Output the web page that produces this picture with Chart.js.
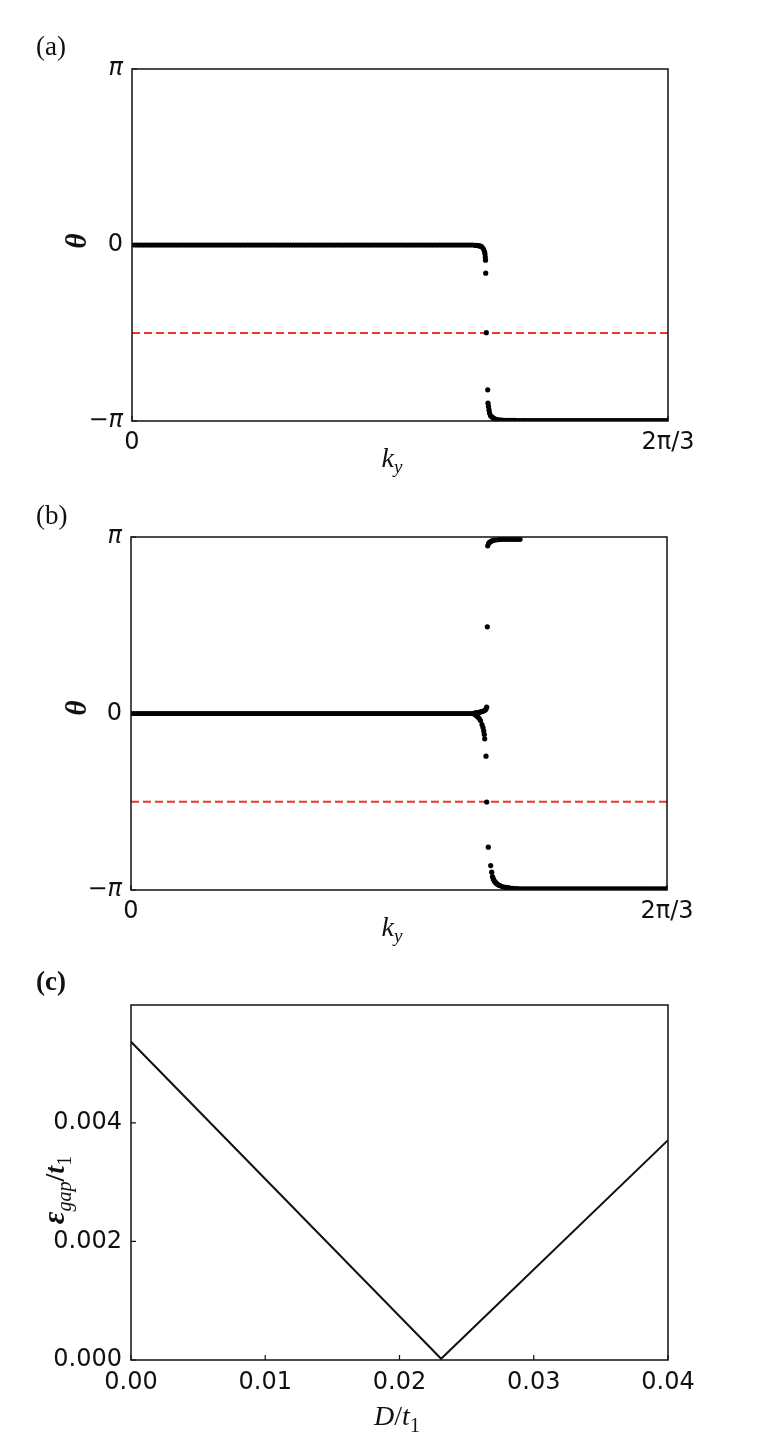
<!DOCTYPE html>
<html>
<head>
<meta charset="utf-8">
<script src="https://cdn.jsdelivr.net/npm/chart.js@4.4.1/dist/chart.umd.min.js"></script>
<style>
  html, body { margin: 0; padding: 0; background: #fff; }
  main { position: relative; width: 780px; height: 1450px; }
  canvas { position: absolute; left: 0; }
</style>
</head>
<body>
<main></main>
<script>
// Berry phase theta(k_y) for two cases + gap vs D/t1

const PI = Math.PI;

// axis ticks
const kyTicks = [0, 2 * PI / 3];
const kyTickLabels = ['0', '2π/3'];
const thetaTicks = [-PI, 0, PI];
const thetaTickLabels = ['−π', '0', 'π'];
const halfPiLine = -PI / 2;

// flat stretches shared by (a) and (b)
const kyUpperFlat = [
  0.00, 0.01, 0.02, 0.03, 0.04, 0.05, 0.06, 0.07, 0.08, 0.09,
  0.10, 0.11, 0.12, 0.13, 0.14, 0.15, 0.16, 0.17, 0.18, 0.19,
  0.20, 0.21, 0.22, 0.23, 0.24, 0.25, 0.26, 0.27, 0.28, 0.29,
  0.30, 0.31, 0.32, 0.33, 0.34, 0.35, 0.36, 0.37, 0.38, 0.39,
  0.40, 0.41, 0.42, 0.43, 0.44, 0.45, 0.46, 0.47, 0.48, 0.49,
  0.50, 0.51, 0.52, 0.53, 0.54, 0.55, 0.56, 0.57, 0.58, 0.59,
  0.60, 0.61, 0.62, 0.63, 0.64, 0.65, 0.66, 0.67, 0.68, 0.69,
  0.70, 0.71, 0.72, 0.73, 0.74, 0.75, 0.76, 0.77, 0.78, 0.79,
  0.80, 0.81, 0.82, 0.83, 0.84, 0.85, 0.86, 0.87, 0.88, 0.89,
  0.90, 0.91, 0.92, 0.93, 0.94, 0.95, 0.96, 0.97, 0.98, 0.99,
  1.00, 1.01, 1.02, 1.03, 1.04, 1.05, 1.06, 1.07, 1.08, 1.09,
  1.10, 1.11, 1.12, 1.13, 1.14, 1.15, 1.16, 1.17, 1.18, 1.19,
  1.20, 1.21, 1.22, 1.23, 1.24, 1.25, 1.26, 1.27, 1.28, 1.29,
  1.30, 1.31, 1.32, 1.33
];
const thetaUpperFlat = 0;
const kyLowerFlat = [
  1.54, 1.55, 1.56, 1.57, 1.58, 1.59, 1.60, 1.61, 1.62, 1.63,
  1.64, 1.65, 1.66, 1.67, 1.68, 1.69, 1.70, 1.71, 1.72, 1.73,
  1.74, 1.75, 1.76, 1.77, 1.78, 1.79, 1.80, 1.81, 1.82, 1.83,
  1.84, 1.85, 1.86, 1.87, 1.88, 1.89, 1.90, 1.91, 1.92, 1.93,
  1.94, 1.95, 1.96, 1.97, 1.98, 1.99, 2.00, 2.01, 2.02, 2.03,
  2.04, 2.05, 2.06, 2.07, 2.08, 2.09, 2.094
];
const thetaLowerA = -3.133;
const thetaLowerB = -3.12;

// (a) jump region
const kyEdgeA = [1.34, 1.346, 1.352, 1.356, 1.36, 1.364, 1.3676, 1.3735, 1.3774, 1.3793,
  1.3805, 1.3813, 1.3821, 1.3844, 1.3899, 1.391, 1.393, 1.395, 1.397, 1.4009,
  1.4038, 1.4067, 1.4105, 1.4145, 1.42, 1.4262, 1.436, 1.4457, 1.455, 1.465,
  1.475, 1.485, 1.495, 1.505, 1.515, 1.525, 1.535];
const thetaEdgeA = [-0.005, -0.007, -0.01, -0.013, -0.018, -0.026, -0.036, -0.072, -0.117, -0.16,
  -0.215, -0.27, -0.503, -1.565, -2.585, -2.824, -2.881, -2.944, -2.998, -3.043,
  -3.058, -3.07, -3.085, -3.097, -3.107, -3.115, -3.122, -3.127, -3.129, -3.13,
  -3.131, -3.132, -3.132, -3.133, -3.133, -3.133, -3.133];

// (b) jump region
const kyForkUpB = [1.34, 1.344, 1.348, 1.352, 1.356, 1.36, 1.364, 1.368, 1.3715, 1.3765,
  1.3813, 1.3845, 1.3871, 1.3899];
const thetaForkUpB = [0.004, 0.007, 0.01, 0.014, 0.018, 0.022, 0.026, 0.031, 0.036, 0.044,
  0.053, 0.065, 0.080, 0.112];
const kyTopB = [1.3922, 1.3938, 1.397, 1.40, 1.4028, 1.4067, 1.4106, 1.4165, 1.4223, 1.432,
  1.4418, 1.45, 1.46, 1.47, 1.48, 1.49, 1.50, 1.51, 1.52];
const thetaTopB = [1.543, 2.985, 3.026, 3.042, 3.053, 3.065, 3.074, 3.082, 3.088, 3.093,
  3.097, 3.10, 3.10, 3.10, 3.10, 3.10, 3.10, 3.10, 3.10];
const kyForkDownB = [1.34, 1.344, 1.348, 1.352, 1.3559, 1.3608, 1.3657, 1.3715, 1.3754, 1.3782,
  1.3805, 1.3821];
const thetaForkDownB = [-0.006, -0.016, -0.03, -0.045, -0.062, -0.09, -0.125, -0.196, -0.249, -0.311,
  -0.374, -0.450];
const kyDropB = [1.3871, 1.3899, 1.3961, 1.4055, 1.4094, 1.4125, 1.4155, 1.4184, 1.421, 1.424,
  1.427, 1.4301, 1.435, 1.44, 1.4496, 1.457, 1.465, 1.473, 1.4809, 1.49,
  1.50, 1.51, 1.52, 1.53];
const thetaDropB = [-0.760, -1.575, -2.380, -2.706, -2.825, -2.901, -2.94, -2.972, -2.99, -3.005,
  -3.02, -3.035, -3.05, -3.06, -3.079, -3.088, -3.095, -3.101, -3.106, -3.112,
  -3.116, -3.118, -3.12, -3.12];

// (c) gap vs D/t1
const dTicks = [0, 0.01, 0.02, 0.03, 0.04];
const gapTicks = [0, 0.002, 0.004];
const dValues = [0, 0.0231, 0.04];
const gapValues = [0.00537, 0.00002, 0.00371];

Chart.defaults.font.family = '"DejaVu Sans", sans-serif';
Chart.defaults.color = '#111';

const SERIF = '"Liberation Serif", "Times New Roman", serif';

function pts(xs, ys) {
  return xs.map((x, i) => ({ x: x, y: Array.isArray(ys) ? ys[i] : ys }));
}

function drawRich(ctx, parts, x, y, rotate) {
  ctx.save();
  ctx.translate(x, y);
  if (rotate) ctx.rotate(-Math.PI / 2);
  ctx.textAlign = 'left';
  ctx.textBaseline = 'alphabetic';
  let total = 0;
  parts.forEach(p => { ctx.font = p.f; total += ctx.measureText(p.t).width; });
  let cx = -total / 2;
  parts.forEach(p => {
    ctx.font = p.f;
    ctx.fillText(p.t, cx, p.dy || 0);
    cx += ctx.measureText(p.t).width;
  });
  ctx.restore();
}

function decor(cfg) {
  return {
    id: 'decor',
    afterDraw(chart) {
      const { ctx, chartArea: a, scales } = chart;
      const xs = scales.x, ys = scales.y;
      ctx.save();
      ctx.strokeStyle = '#111';
      ctx.lineWidth = 1.2;
      ctx.beginPath();
      xs.ticks.forEach(t => {
        const px = xs.getPixelForValue(t.value);
        ctx.moveTo(px, a.bottom);
        ctx.lineTo(px, a.bottom - cfg.tickLen);
      });
      ys.ticks.forEach(t => {
        const py = ys.getPixelForValue(t.value);
        ctx.moveTo(a.left, py);
        ctx.lineTo(a.left + cfg.tickLen, py);
      });
      ctx.stroke();
      ctx.lineWidth = 1.5;
      ctx.strokeRect(a.left, a.top, a.right - a.left, a.bottom - a.top);

      ctx.fillStyle = '#111';
      ctx.font = cfg.letterFont;
      ctx.textBaseline = 'alphabetic';
      ctx.fillText(cfg.letter, 36, cfg.letterY);
      drawRich(ctx, cfg.xTitle, cfg.xTitlePos[0], cfg.xTitlePos[1], false);
      drawRich(ctx, cfg.yTitle, cfg.yTitlePos[0], cfg.yTitlePos[1], true);
      ctx.restore();
    }
  };
}

function makeCanvas(top, height) {
  const c = document.createElement('canvas');
  c.width = 780;
  c.height = height;
  c.style.top = top + 'px';
  c.style.width = '780px';
  c.style.height = height + 'px';
  document.querySelector('main').appendChild(c);
  return c;
}

const kyTitle = [
  { t: 'k', f: 'italic 28px ' + SERIF },
  { t: 'y', f: 'italic 19px ' + SERIF, dy: 6 }
];
const thetaTitle = [{ t: 'θ', f: 'bold italic 29px ' + SERIF }];

function phaseChart(top, box, points, letter, letterY, titles) {
  const canvas = makeCanvas(top, 480);
  return new Chart(canvas, {
    type: 'scatter',
    data: {
      datasets: [
        {
          data: points,
          pointRadius: 2.6,
          pointHoverRadius: 2.6,
          pointBackgroundColor: '#000',
          pointBorderWidth: 0,
          borderColor: '#000'
        },
        {
          data: [{ x: kyTicks[0], y: halfPiLine }, { x: kyTicks[1], y: halfPiLine }],
          showLine: true,
          borderColor: '#f0352a',
          borderWidth: 2,
          borderDash: [8, 4],
          pointRadius: 0
        }
      ]
    },
    options: {
      responsive: false,
      animation: false,
      events: [],
      layout: { padding: { left: 0, right: 780 - box.right, top: box.top, bottom: 0 } },
      plugins: { legend: { display: false }, tooltip: { enabled: false } },
      scales: {
        x: {
          type: 'linear',
          min: kyTicks[0],
          max: kyTicks[1],
          grid: { display: false, drawTicks: false },
          border: { display: false },
          afterBuildTicks: s => { s.ticks = kyTicks.map(v => ({ value: v })); },
          afterFit: s => { s.height = 480 - box.bottom; },
          ticks: {
            font: { size: 24 },
            padding: 7,
            maxRotation: 0,
            autoSkip: false,
            callback: (v, i) => kyTickLabels[i]
          }
        },
        y: {
          type: 'linear',
          min: thetaTicks[0],
          max: thetaTicks[2],
          grid: { display: false, drawTicks: false },
          border: { display: false },
          afterBuildTicks: s => { s.ticks = thetaTicks.map(v => ({ value: v })); },
          afterFit: s => { s.width = box.left; },
          ticks: {
            font: c => ({ size: 24, style: c.index === 1 ? 'normal' : 'italic' }),
            padding: 9,
            autoSkip: false,
            callback: (v, i) => thetaTickLabels[i]
          }
        }
      }
    },
    plugins: [decor({
      tickLen: 5,
      letter: letter,
      letterY: letterY,
      letterFont: '27px ' + SERIF,
      xTitle: kyTitle,
      xTitlePos: titles.x,
      yTitle: thetaTitle,
      yTitlePos: titles.y
    })]
  });
}

document.addEventListener('DOMContentLoaded', function () {
  // (a)
  const pointsA = [].concat(
    pts(kyUpperFlat, thetaUpperFlat),
    pts(kyEdgeA, thetaEdgeA),
    pts(kyLowerFlat, thetaLowerA)
  );
  phaseChart(0, { left: 132, right: 668, top: 69, bottom: 421 }, pointsA, '(a)', 55,
    { x: [392, 467], y: [86, 241] });

  // (b)
  const pointsB = [].concat(
    pts(kyUpperFlat, thetaUpperFlat),
    pts(kyForkUpB, thetaForkUpB),
    pts(kyTopB, thetaTopB),
    pts(kyForkDownB, thetaForkDownB),
    pts(kyDropB, thetaDropB),
    pts(kyLowerFlat, thetaLowerB)
  );
  phaseChart(480, { left: 131, right: 667, top: 57, bottom: 410 }, pointsB, '(b)', 44,
    { x: [392, 456], y: [86, 228] });

  // (c)
  const canvasC = makeCanvas(960, 490);
  const boxC = { left: 131, right: 668, top: 45, bottom: 400 };
  new Chart(canvasC, {
    type: 'scatter',
    data: {
      datasets: [{
        data: pts(dValues, gapValues),
        showLine: true,
        borderColor: '#111',
        borderWidth: 2,
        pointRadius: 0,
        tension: 0
      }]
    },
    options: {
      responsive: false,
      animation: false,
      events: [],
      layout: { padding: { left: 0, right: 780 - boxC.right, top: boxC.top, bottom: 0 } },
      plugins: { legend: { display: false }, tooltip: { enabled: false } },
      scales: {
        x: {
          type: 'linear',
          min: 0,
          max: 0.04,
          grid: { display: false, drawTicks: false },
          border: { display: false },
          afterBuildTicks: s => { s.ticks = dTicks.map(v => ({ value: v })); },
          afterFit: s => { s.height = 490 - boxC.bottom; },
          ticks: {
            font: { size: 24 },
            padding: 8,
            maxRotation: 0,
            autoSkip: false,
            callback: v => v.toFixed(2)
          }
        },
        y: {
          type: 'linear',
          min: 0,
          max: 0.00599,
          grid: { display: false, drawTicks: false },
          border: { display: false },
          afterBuildTicks: s => { s.ticks = gapTicks.map(v => ({ value: v })); },
          afterFit: s => { s.width = boxC.left; },
          ticks: {
            font: { size: 24 },
            padding: 9,
            autoSkip: false,
            callback: v => v.toFixed(3)
          }
        }
      }
    },
    plugins: [decor({
      tickLen: 5,
      letter: '(c)',
      letterY: 30,
      letterFont: 'bold 27px ' + SERIF,
      xTitle: [
        { t: 'D', f: 'italic 28px ' + SERIF },
        { t: '/', f: '28px ' + SERIF },
        { t: 't', f: 'italic 28px ' + SERIF },
        { t: '1', f: '20px ' + SERIF, dy: 7 }
      ],
      xTitlePos: [397, 465],
      yTitle: [
        { t: 'ε', f: 'bold italic 31px ' + SERIF },
        { t: 'gap', f: 'italic 20px ' + SERIF, dy: 7 },
        { t: '/', f: 'bold 28px ' + SERIF },
        { t: 't', f: 'bold italic 28px ' + SERIF },
        { t: '1', f: '20px ' + SERIF, dy: 7 }
      ],
      yTitlePos: [64, 1190 - 960]
    })]
  });
});
</script>
</body>
</html>
